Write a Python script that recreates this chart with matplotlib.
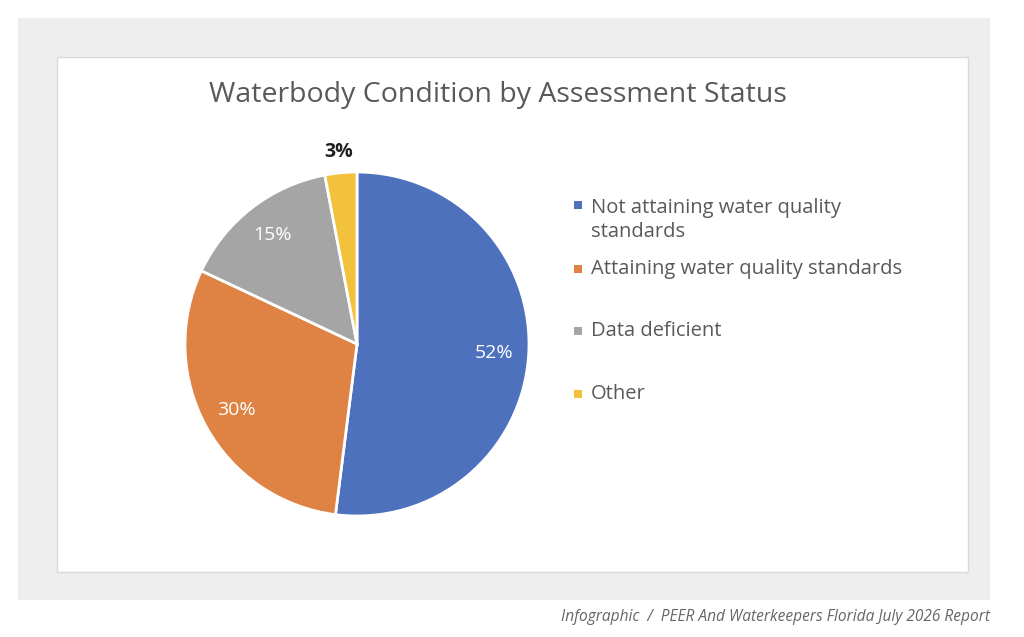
import matplotlib.pyplot as plt
from matplotlib.patches import Rectangle

labels = ["Not attaining water quality\nstandards", "Attaining water quality standards",
          "Data deficient", "Other"]
values = [52, 30, 15, 3]
colors = ["#4E71BE", "#DE8344", "#A5A5A5", "#F2C23C"]
legend_y = [220, 269, 331, 394]

plt.rcParams['font.family'] = ['Open Sans', 'DejaVu Sans']
W, H = 1024, 637
fig = plt.figure(figsize=(W / 100, H / 100), dpi=100)
fig.patch.set_facecolor("white")

def fx(x): return x / W
def fy(y): return 1 - y / H

fig.patches.append(Rectangle((fx(18), fy(600)), fx(990) - fx(18), fy(18) - fy(600),
                             transform=fig.transFigure, facecolor="#EEEEEE", edgecolor="none", zorder=-2))
fig.patches.append(Rectangle((fx(57), fy(572)), fx(968) - fx(57), fy(57) - fy(572),
                             transform=fig.transFigure, facecolor="white", edgecolor="#D9D9D9", lw=1, zorder=-1))

fig.text(fx(498), fy(95), "Waterbody Condition by Assessment Status", ha="center", va="center",
         fontsize=20.5, color="#595959")

ax = fig.add_axes([fx(357 - 172), fy(344 + 172), 344 / W, 344 / H])
ax.set_zorder(5)
ax.patch.set_visible(False)
wedges, texts, autotexts = ax.pie(values, colors=colors, startangle=90, counterclock=False,
                                  autopct="%d%%", pctdistance=0.8,
                                  wedgeprops=dict(edgecolor="white", linewidth=2),
                                  textprops=dict(color="white", fontsize=14))
ax.set_xlim(-1, 1)
ax.set_ylim(-1, 1)
ax.set_aspect("equal")
x, y = autotexts[3].get_position()
autotexts[3].set_position((x * 1.12 / 0.8, y * 1.12 / 0.8))
autotexts[3].set_color("#222222")
autotexts[3].set_fontweight("bold")

for lab, c, ly in zip(labels, colors, legend_y):
    my = ly - 15 if "\n" in lab else ly
    fig.patches.append(Rectangle((fx(574), fy(my + 4)), 8 / W, 8 / H,
                                 transform=fig.transFigure, facecolor=c, edgecolor="none", zorder=3))
    fig.text(fx(591), fy(ly), lab, ha="left", va="center", fontsize=14.5, color="#595959",
             linespacing=1.3)

fig.text(fx(990), fy(617), "Infographic  /  PEER And Waterkeepers Florida July 2026 Report",
         ha="right", va="center", fontsize=11.2, style="italic", color="#666666")

fig.savefig("out.png", dpi=100)
